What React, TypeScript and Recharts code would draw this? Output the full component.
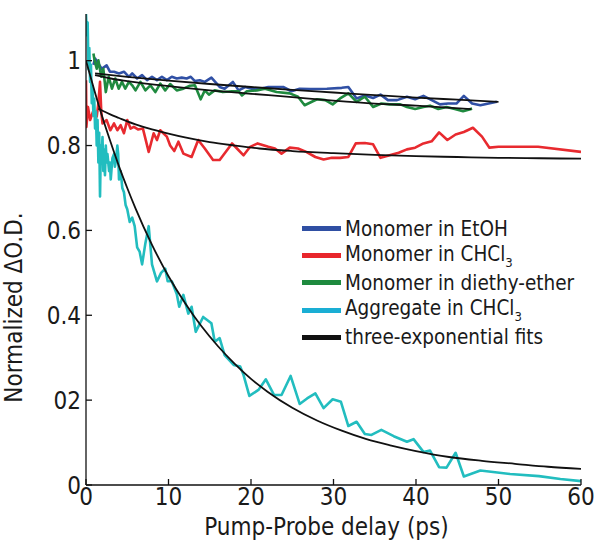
import React from 'react';
import { LineChart, Line, XAxis, YAxis, Label } from 'recharts';

const FONT = "'DejaVu Sans Condensed', 'DejaVu Sans', sans-serif";

const xTicks = [0, 10, 20, 30, 40, 50, 60];
const yTicks = [0, 0.2, 0.4, 0.6, 0.8, 1];
const yTickLabels = ['0', '02', '0.4', '0.6', '0.8', '1'];

const xLabel = 'Pump-Probe delay (ps)';
const yLabel = 'Normalized \u0394O.D.';

const legendNames = ['Monomer in EtOH', 'Monomer in CHCl', 'Monomer in diethy-ether', 'Aggregate in CHCl', 'three-exponential fits'];
const legendSubs = ['', '3', '', '3', ''];
const legendColors = ['#2f4fa3', '#e8262c', '#1e8a3e', '#1aaed4', '#111111'];

const colEtOH = '#3050a5';
const colCHCl3 = '#e82a2f';
const colEther = '#1f8a3f';
const colAgg = '#22bdbf';
const colFit = '#111111';

// [delay (ps), normalized dOD]
const etohPts = [[0.9,0.99],[1.1,1.005],[1.5,0.993],[1.9,0.981],[2.5,0.989],[2.9,0.974],[3.4,0.974],[4.0,0.970],[4.6,0.974],[5.2,0.962],[5.6,0.970],[6.2,0.958],[6.8,0.966],[7.4,0.954],[8.0,0.962],[8.6,0.954],[9.2,0.962],[9.8,0.954],[10.4,0.962],[11.0,0.958],[11.6,0.960],[12.2,0.958],[12.7,0.962],[13.2,0.952],[13.8,0.954],[14.4,0.950],[15.2,0.960],[16.2,0.938],[16.8,0.934],[17.8,0.950],[18.5,0.930],[19.3,0.938],[20.1,0.934],[21.1,0.934],[22.1,0.938],[23.9,0.938],[24.9,0.928],[25.9,0.934],[27.2,0.933],[29.2,0.934],[31.0,0.936],[31.8,0.938],[32.8,0.911],[33.8,0.918],[34.8,0.912],[35.7,0.920],[36.6,0.907],[37.7,0.907],[38.9,0.915],[39.9,0.909],[40.9,0.917],[41.9,0.907],[42.9,0.897],[43.9,0.899],[44.9,0.899],[45.8,0.917],[46.8,0.899],[47.8,0.895],[48.8,0.899],[49.8,0.903]];

const chcl3Pts = [[0,0.954],[0.05,0.844],[0.24,0.891],[0.5,0.86],[0.9,0.883],[1.3,0.868],[1.5,0.90],[1.7,0.950],[1.85,0.88],[2.0,0.852],[2.5,0.860],[2.95,0.836],[3.4,0.852],[3.8,0.836],[4.2,0.848],[4.6,0.829],[5.0,0.860],[5.4,0.840],[5.8,0.844],[6.3,0.838],[6.9,0.840],[7.6,0.785],[8.2,0.829],[8.6,0.813],[9.0,0.836],[9.8,0.821],[10.2,0.800],[10.7,0.787],[11.2,0.809],[11.8,0.781],[12.8,0.773],[13.6,0.813],[14.4,0.793],[15.4,0.766],[16.2,0.766],[17.7,0.805],[18.3,0.793],[19.1,0.777],[19.9,0.797],[20.8,0.805],[22.1,0.797],[22.9,0.793],[23.7,0.781],[24.7,0.795],[25.7,0.793],[26.7,0.785],[27.8,0.773],[28.8,0.767],[29.8,0.771],[30.8,0.771],[31.8,0.773],[32.7,0.805],[33.8,0.806],[34.8,0.803],[35.7,0.771],[36.8,0.777],[37.9,0.783],[38.9,0.791],[39.9,0.795],[40.9,0.805],[41.9,0.810],[42.8,0.831],[43.8,0.813],[44.8,0.826],[45.8,0.832],[46.9,0.842],[48.0,0.821],[48.9,0.795],[50.0,0.797],[54.8,0.797],[60,0.785]];

const etherPts = [[0.9,1.017],[1.05,1.0],[1.3,0.981],[1.5,1.001],[1.85,0.962],[2.1,0.981],[2.4,0.926],[2.75,0.962],[3.15,0.934],[3.55,0.958],[3.96,0.934],[4.36,0.950],[4.76,0.934],[5.2,0.950],[5.6,0.942],[6.0,0.930],[6.6,0.950],[7.2,0.930],[7.8,0.942],[8.4,0.926],[9.0,0.946],[9.6,0.930],[10.2,0.945],[11.0,0.930],[11.8,0.934],[12.6,0.941],[13.2,0.942],[13.9,0.909],[14.4,0.930],[14.9,0.920],[15.6,0.930],[16.6,0.926],[17.7,0.928],[18.5,0.928],[18.9,0.918],[19.5,0.928],[20.7,0.930],[21.7,0.934],[23.1,0.926],[24.7,0.923],[25.7,0.915],[26.5,0.895],[28.0,0.909],[29.0,0.907],[29.9,0.897],[30.8,0.911],[31.8,0.923],[32.8,0.903],[33.8,0.915],[34.8,0.891],[35.8,0.899],[36.8,0.897],[38.1,0.897],[38.9,0.891],[39.9,0.886],[40.9,0.891],[41.7,0.894],[42.7,0.886],[43.7,0.891],[44.7,0.886],[45.7,0.881],[46.8,0.887]];

const aggPts = [[0,1.11],[0.1,1.06],[0.2,1.09],[0.3,0.98],[0.4,1.03],[0.5,0.95],[0.6,0.99],[0.7,0.90],[0.8,0.94],[0.9,0.87],[1.0,0.91],[1.1,0.84],[1.2,0.88],[1.3,0.80],[1.4,0.86],[1.5,0.76],[1.6,0.83],[1.7,0.68],[1.8,0.80],[1.9,0.78],[2.0,0.82],[2.1,0.74],[2.2,0.79],[2.3,0.73],[2.4,0.80],[2.5,0.76],[2.6,0.78],[2.8,0.74],[2.9,0.76],[3.0,0.72],[3.2,0.77],[3.4,0.78],[3.5,0.75],[3.6,0.76],[3.8,0.80],[3.9,0.78],[4.0,0.72],[4.2,0.74],[4.4,0.70],[4.6,0.69],[4.8,0.66],[5.0,0.65],[5.3,0.62],[5.6,0.63],[5.9,0.61],[6.2,0.56],[6.5,0.55],[6.8,0.52],[7.2,0.57],[7.6,0.61],[8.0,0.52],[8.6,0.48],[9.1,0.50],[9.6,0.51],[9.9,0.48],[10.4,0.48],[11.0,0.45],[11.3,0.42],[11.8,0.448],[12.4,0.404],[12.8,0.42],[13.3,0.361],[14.2,0.396],[15.2,0.381],[15.6,0.338],[16.2,0.346],[16.8,0.306],[17.9,0.283],[18.7,0.279],[19.1,0.259],[19.8,0.210],[20.9,0.224],[21.8,0.249],[22.8,0.212],[23.7,0.212],[24.8,0.257],[25.9,0.191],[26.8,0.204],[27.8,0.216],[28.8,0.181],[29.9,0.202],[30.9,0.196],[31.8,0.139],[32.8,0.149],[33.8,0.120],[34.6,0.118],[35.8,0.130],[37.3,0.115],[38.9,0.102],[39.7,0.108],[40.9,0.078],[41.7,0.081],[42.8,0.042],[43.7,0.041],[44.8,0.076],[45.8,0.020],[47.8,0.034],[51.4,0.026],[54.9,0.021],[57.5,0.014],[60,0.009]];

const aggFitPts = [[0,1.0],[1,0.931],[2,0.866],[3,0.807],[4,0.751],[5,0.700],[6,0.652],[8,0.566],[10,0.492],[12,0.429],[14,0.374],[16,0.327],[18,0.286],[20,0.250],[22,0.220],[25,0.182],[28,0.152],[31,0.128],[34,0.108],[37,0.093],[40,0.080],[44,0.066],[48,0.057],[52,0.050],[56,0.043],[60,0.038]];
const chcl3FitPts = [[1.5,0.887],[2,0.882],[3,0.873],[4,0.865],[5,0.857],[6,0.850],[8,0.838],[10,0.828],[12,0.819],[15,0.808],[18,0.800],[21,0.793],[25,0.787],[30,0.782],[35,0.778],[40,0.775],[45,0.773],[50,0.771],[55,0.770],[60,0.769]];
const etohFitPts = [[1.1,0.970],[5,0.962],[10,0.953],[15,0.945],[20,0.938],[25,0.931],[30,0.925],[35,0.919],[40,0.913],[45,0.908],[50,0.903]];
const etherFitPts = [[1.1,0.966],[3,0.958],[5,0.952],[10,0.940],[15,0.930],[20,0.922],[25,0.914],[30,0.906],[35,0.899],[40,0.894],[46.7,0.886]];

const toRows = (pts: number[][]) => pts.map(([x, y]) => ({ x, y }));

const dataSeries = [
  { key: 'etoh', pts: etohPts, color: colEtOH },
  { key: 'chcl3', pts: chcl3Pts, color: colCHCl3 },
  { key: 'ether', pts: etherPts, color: colEther },
  { key: 'agg', pts: aggPts, color: colAgg },
];
const fitSeries = [
  { key: 'fetoh', pts: etohFitPts },
  { key: 'fchcl3', pts: chcl3FitPts },
  { key: 'fether', pts: etherFitPts },
  { key: 'fagg', pts: aggFitPts },
];

const axisStroke = { stroke: '#111', strokeWidth: 1.3 };
const tickStyle = { fontSize: 24, fill: '#1a1a1a', fontFamily: FONT };

function LegendBox() {
  return (
    <div style={{ position: 'absolute', left: 302, top: 215, fontFamily: FONT, fontSize: 20.5, color: '#1a1a1a' }}>
      {legendNames.map((name, i) => (
        <div key={name} style={{ display: 'flex', alignItems: 'center', height: 27.2, whiteSpace: 'nowrap' }}>
          <div style={{ width: 39, height: 5, background: legendColors[i], marginRight: 4 }} />
          <span>
            {name}
            {legendSubs[i] ? <sub style={{ fontSize: 13, verticalAlign: -6 }}>{legendSubs[i]}</sub> : null}
          </span>
        </div>
      ))}
    </div>
  );
}

export default function App() {
  return (
    <div style={{ position: 'absolute', left: 0, top: 0, width: 598, height: 540, background: '#fff' }}>
      <LineChart width={598} height={540} margin={{ top: 14, right: 17, bottom: 0, left: 26 }}>
        <XAxis dataKey="x" type="number" domain={[0, 60]} ticks={xTicks} allowDataOverflow
          height={55} tickSize={-6} tickMargin={9} tick={tickStyle}
          axisLine={axisStroke} tickLine={axisStroke}>
          <Label content={(p: any) => {
            const vb = p.viewBox || {};
            return (
              <text x={vb.x + vb.width / 2 - 7} y={vb.y + 50} textAnchor="middle"
                style={{ fontSize: 24, fontFamily: FONT, fill: '#1a1a1a' }}>{xLabel}</text>
            );
          }} />
        </XAxis>
        <XAxis xAxisId="top" orientation="top" type="number" domain={[0, 60]} ticks={xTicks} allowDataOverflow
          height={0} tickSize={-6} tick={false} axisLine={axisStroke} tickLine={axisStroke} />
        <YAxis type="number" domain={[0, 1.11]} ticks={yTicks} allowDataOverflow width={60}
          tickSize={-6} tickMargin={11} tick={tickStyle}
          tickFormatter={(v: number) => yTickLabels[yTicks.indexOf(v)] ?? String(v)}
          axisLine={axisStroke} tickLine={axisStroke}>
          <Label content={(p: any) => {
            const vb = p.viewBox || {};
            const cx = vb.x - 4;
            const cy = vb.y + vb.height / 2 + 58;
            return (
              <text x={cx} y={cy} textAnchor="middle" transform={`rotate(-90, ${cx}, ${cy})`}
                style={{ fontSize: 24, fontFamily: FONT, fill: '#1a1a1a' }}>{yLabel}</text>
            );
          }} />
        </YAxis>
        <YAxis yAxisId="right" orientation="right" type="number" domain={[0, 1.11]} ticks={yTicks} allowDataOverflow
          width={0} tickSize={-6} tick={false} axisLine={axisStroke} tickLine={axisStroke} />
        {dataSeries.map((s) => (
          <Line key={s.key} data={toRows(s.pts)} dataKey="y" type="linear" stroke={s.color}
            strokeWidth={2.6} dot={false} isAnimationActive={false} strokeLinejoin="round" />
        ))}
        {fitSeries.map((s) => (
          <Line key={s.key} data={toRows(s.pts)} dataKey="y" type="monotone" stroke={colFit}
            strokeWidth={1.8} dot={false} isAnimationActive={false} />
        ))}
      </LineChart>
      <LegendBox />
    </div>
  );
}
